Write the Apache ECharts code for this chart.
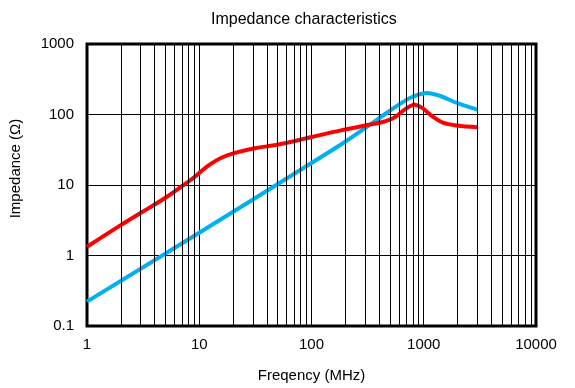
<!DOCTYPE html>
<html>
<head>
<meta charset="utf-8">
<script src="https://cdn.jsdelivr.net/npm/echarts@6/dist/echarts.min.js"></script>
<style>
html,body{margin:0;padding:0;background:#fff;}
#chart{width:575px;height:388px;}
</style>
</head>
<body>
<div id="chart"></div>
<script>
// Data
const redFreq = [1, 2, 3, 5, 7, 9.2, 12.1, 15.9, 20.8, 31.3, 52, 100, 183, 300, 414, 543, 689, 827, 968, 1186, 1503, 1972, 3000];
const redZ    = [1.33, 2.7, 4.0, 6.6, 9.6, 13.2, 19.0, 24.6, 28.6, 33.2, 37.8, 48, 59.6, 70, 77, 90, 120, 138, 124, 95, 76, 70, 66];
const blueFreq = [1, 10, 100, 183, 300, 414, 601, 788, 1071, 1404, 1972, 3000];
const blueZ    = [0.222, 2.1, 20.5, 37.5, 64, 92, 138, 177, 202, 183, 146, 117];
const xMinorGrid = [2,3,4,5,6,7,8,9,20,30,40,50,60,70,80,90,200,300,400,500,600,700,800,900,2000,3000,4000,5000,6000,7000,8000,9000];
const xTicks = [1, 10, 100, 1000, 10000];
const yTicks = [0.1, 1, 10, 100, 1000];

const font = 'Liberation Sans, Arial, sans-serif';
const chart = echarts.init(document.getElementById('chart'), null, {renderer: 'canvas'});
chart.setOption({
  animation: false,
  backgroundColor: '#fff',
  title: {
    text: 'Impedance characteristics',
    left: 206, top: 7,
    textStyle: {fontFamily: font, fontSize: 16, fontWeight: 'normal', color: '#000'}
  },
  grid: {left: 85, right: 39, top: 44, bottom: 60, show: true, borderColor: '#000', borderWidth: 3, backgroundColor: 'transparent'},
  xAxis: {
    type: 'log', logBase: 10, min: xTicks[0], max: xTicks[xTicks.length - 1],
    name: 'Freqency (MHz)', nameLocation: 'middle', nameGap: 42,
    nameTextStyle: {fontFamily: font, fontSize: 15, color: '#000'},
    axisLine: {show: false}, axisTick: {show: false},
    axisLabel: {fontFamily: font, fontSize: 15, color: '#000', margin: 11, formatter: v => String(v)},
    splitLine: {show: true, lineStyle: {color: '#000', width: 1}}
  },
  yAxis: {
    type: 'log', logBase: 10, min: yTicks[0], max: yTicks[yTicks.length - 1],
    name: 'Impedance (Ω)', nameLocation: 'middle', nameGap: 64,
    nameTextStyle: {fontFamily: font, fontSize: 15, color: '#000', padding: [0, 0, 0, 33]},
    axisLine: {show: false}, axisTick: {show: false},
    axisLabel: {fontFamily: font, fontSize: 15, color: '#000', margin: 13, formatter: v => String(v)},
    splitLine: {show: true, lineStyle: {color: '#000', width: 1}}
  },
  series: [
    {
      type: 'line', data: [], z: 1, silent: true,
      markLine: {
        silent: true, symbol: ['none', 'none'], label: {show: false},
        lineStyle: {color: '#000', width: 1, type: 'solid'},
        emphasis: {disabled: true},
        data: xMinorGrid.map(v => ({xAxis: v}))
      }
    },
    {
      type: 'line', z: 3, smooth: 0.35, showSymbol: false,
      lineStyle: {color: '#00B0F0', width: 4},
      data: blueFreq.map((f, i) => [f, blueZ[i]])
    },
    {
      type: 'line', z: 4, smooth: 0.35, showSymbol: false,
      lineStyle: {color: '#FF0000', width: 4},
      data: redFreq.map((f, i) => [f, redZ[i]])
    }
  ]
});
</script>
</body>
</html>
